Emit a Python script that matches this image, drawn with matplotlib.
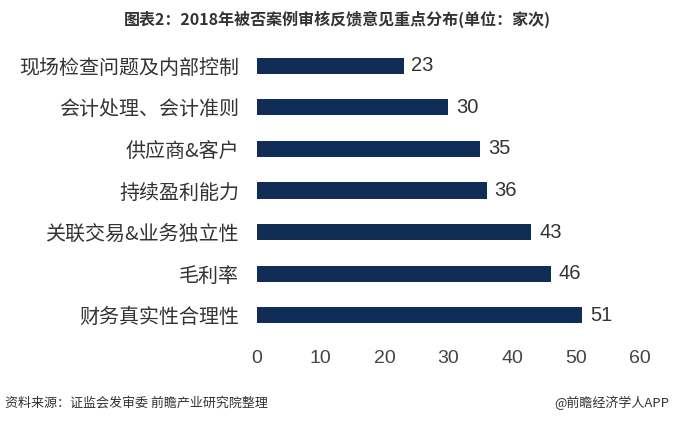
import matplotlib
matplotlib.use("Agg")
import matplotlib.pyplot as plt

plt.rcParams['font.family'] = ['Noto Sans CJK SC', 'DejaVu Sans']

categories = ["财务真实性合理性", "毛利率", "关联交易&业务独立性", "持续盈利能力",
              "供应商&客户", "会计处理、会计准则", "现场检查问题及内部控制"]
values = [51, 46, 43, 36, 35, 30, 23]
xticks = [0, 10, 20, 30, 40, 50, 60]

fig = plt.figure(figsize=(6.75, 4.23), dpi=100)
ax = fig.add_axes([0.3807, 0.2057, 0.948 - 0.3807, 0.8936 - 0.2057])
pos = list(range(len(categories)))
ax.barh(pos, values, height=0.39, color="#0f2d55")
ax.set_ylim(-0.5, len(categories) - 0.5)
ax.set_xlim(0, 60)
ax.set_xticks(xticks)
ax.set_xticklabels([str(t) for t in xticks], fontsize=14, color="#444444")
ax.set_yticks(pos)
ax.set_yticklabels(categories, fontsize=14.4, color="#333333")
ax.tick_params(axis='both', length=0)
ax.tick_params(axis='x', pad=10)
ax.tick_params(axis='y', pad=13)
for s in ax.spines.values():
    s.set_visible(False)
for p, v in zip(pos, values):
    ax.text(v + 1.2, p, str(v), va='center', ha='left', fontsize=14.5, color="#333333",
            family=['Liberation Sans', 'DejaVu Sans'])
for lbl in ax.get_xticklabels():
    lbl.set_family(['Liberation Sans', 'DejaVu Sans'])

fig.text(0.5, 0.955, "图表2：2018年被否案例审核反馈意见重点分布(单位：家次)", ha='center', va='center',
         fontsize=11.5, fontweight='bold', color="#333333")
fig.text(0.008, 0.048, "资料来源：证监会发审委 前瞻产业研究院整理", ha='left', va='center',
         fontsize=9.4, color="#333333")
fig.text(0.992, 0.048, "@前瞻经济学人APP", ha='right', va='center', fontsize=9.4, color="#333333")

fig.savefig("out.png", dpi=100)
